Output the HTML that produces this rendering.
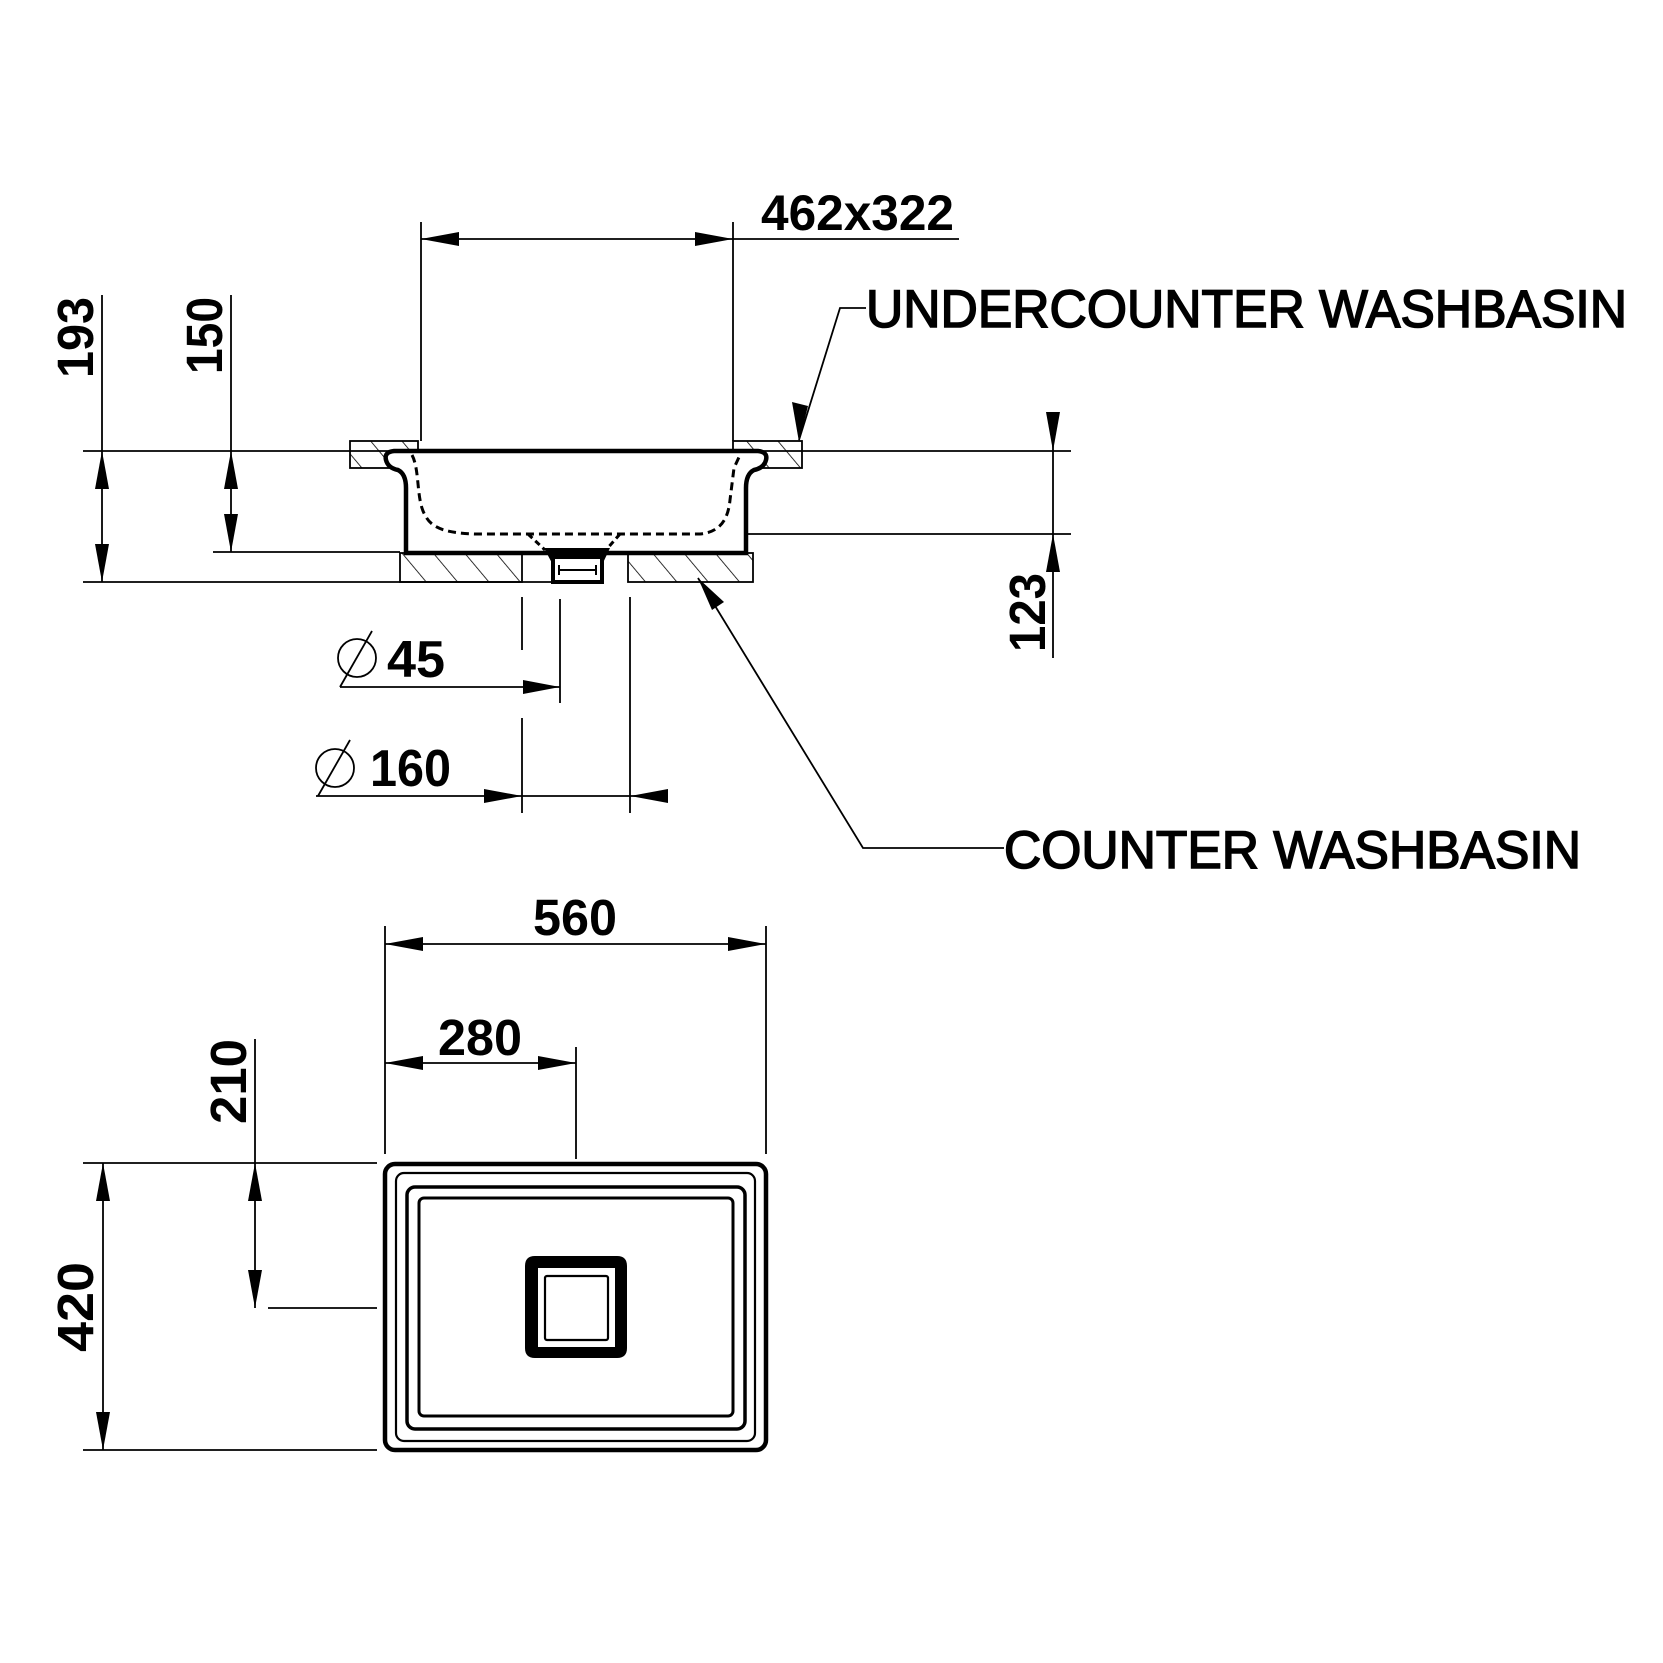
<!DOCTYPE html>
<html><head><meta charset="utf-8"><style>html,body{margin:0;padding:0;background:#fff}svg{display:block}</style></head>
<body>
<svg width="1663" height="1663" viewBox="0 0 1663 1663" xmlns="http://www.w3.org/2000/svg">
<defs>
<pattern id="h" patternUnits="userSpaceOnUse" width="24" height="40" patternTransform="rotate(-40)">
<line x1="0" y1="0" x2="0" y2="40" stroke="#000" stroke-width="1.6"/>
</pattern>
</defs>
<rect width="1663" height="1663" fill="#fff"/>
<g stroke="#000" stroke-width="1.8" fill="none">
<line x1="83" y1="451" x2="1071" y2="451"/>
<line x1="213" y1="552" x2="400" y2="552"/>
<line x1="83" y1="582" x2="553" y2="582"/>
<line x1="746" y1="534" x2="1071" y2="534"/>
<line x1="102" y1="295" x2="102" y2="582"/>
<line x1="231" y1="295" x2="231" y2="552"/>
<line x1="421" y1="222" x2="421" y2="441"/>
<line x1="733" y1="222" x2="733" y2="441"/>
<line x1="421" y1="239" x2="959" y2="239"/>
<line x1="1053" y1="412" x2="1053" y2="658"/>
<line x1="522" y1="597" x2="522" y2="650"/>
<line x1="522" y1="718" x2="522" y2="813"/>
<line x1="560" y1="599" x2="560" y2="703"/>
<line x1="630" y1="597" x2="630" y2="813"/>
<line x1="340" y1="687" x2="560" y2="687"/>
<line x1="316" y1="796" x2="668" y2="796"/>
<circle cx="357" cy="658" r="19"/>
<line x1="340" y1="687" x2="372" y2="631"/>
<circle cx="335" cy="768" r="19"/>
<line x1="318" y1="796" x2="350" y2="740"/>
<polyline points="866,308 840,308 799,440"/>
<polyline points="698,578 863,848 1004,848"/>
<line x1="385" y1="926" x2="385" y2="1154"/>
<line x1="766" y1="926" x2="766" y2="1154"/>
<line x1="576" y1="1047" x2="576" y2="1159"/>
<line x1="385" y1="944" x2="766" y2="944"/>
<line x1="385" y1="1063" x2="576" y2="1063"/>
<line x1="83" y1="1163" x2="377" y2="1163"/>
<line x1="83" y1="1450" x2="377" y2="1450"/>
<line x1="268" y1="1308" x2="377" y2="1308"/>
<line x1="103" y1="1163" x2="103" y2="1450"/>
<line x1="255" y1="1039" x2="255" y2="1308"/>
</g>
<g fill="#000">
<polygon points="102,451 95,489 109,489"/>
<polygon points="102,582 95,544 109,544"/>
<polygon points="231,451 224,489 238,489"/>
<polygon points="231,552 224,514 238,514"/>
<polygon points="421,239 459,232 459,246"/>
<polygon points="733,239 695,232 695,246"/>
<polygon points="1053,451 1046,412 1060,412"/>
<polygon points="1053,534 1046,572 1060,572"/>
<polygon points="560,687 523,680 523,694"/>
<polygon points="522,796 484,789 484,803"/>
<polygon points="630,796 668,789 668,803"/>
<polygon points="799,442 792,402 808,406"/>
<polygon points="698,578 712,610 724,602"/>
<polygon points="385,944 423,937 423,951"/>
<polygon points="766,944 728,937 728,951"/>
<polygon points="385,1063 423,1056 423,1070"/>
<polygon points="576,1063 538,1056 538,1070"/>
<polygon points="103,1163 96,1201 110,1201"/>
<polygon points="103,1450 96,1412 110,1412"/>
<polygon points="255,1163 248,1201 262,1201"/>
<polygon points="255,1308 248,1270 262,1270"/>
</g>
<g stroke="#000" stroke-width="1.8">
<rect x="350" y="441" width="68" height="27" fill="url(#h)"/>
<rect x="733" y="441" width="69" height="27" fill="url(#h)"/>
<rect x="400" y="553" width="122" height="29" fill="url(#h)"/>
<rect x="628" y="553" width="125" height="29" fill="url(#h)"/>
</g>
<path d="M394 451 Q384 452 386 460 Q388 468 398 470 Q406 474 406 488 L406 553 L746 553 L746 488 Q746 474 754 470 Q764 468 766 460 Q768 452 758 451 Z" fill="#fff" stroke="#000" stroke-width="4.5"/>
<path d="M412 455 C420 470 416 500 425 515 C432 530 450 533 475 534 L700 534 C720 532 728 520 730 500 L734 468 L740 455" fill="none" stroke="#000" stroke-width="3" stroke-dasharray="8,5"/>
<path d="M528 534 L545 550 M620 534 L606 550" fill="none" stroke="#000" stroke-width="3" stroke-dasharray="6,4"/>
<polygon points="544,548 610,548 602,565 553,565" fill="#000"/>
<rect x="553" y="557" width="49" height="25" fill="#fff" stroke="#000" stroke-width="4"/>
<path d="M559 565 V575 M596 565 V575 M559 570 H596" stroke="#000" stroke-width="2" fill="none"/>
<g fill="none" stroke="#000">
<rect x="385" y="1164" width="381" height="286" rx="10" stroke-width="4.5"/>
<rect x="396" y="1173" width="359" height="268" rx="8" stroke-width="2.2"/>
<rect x="407" y="1187" width="338" height="242" rx="8" stroke-width="3.5"/>
<rect x="419" y="1198" width="314" height="218" rx="5" stroke-width="3"/>
<rect x="545" y="1276" width="63" height="64" rx="2" stroke-width="2.2"/>
</g>
<path fill="#000" fill-rule="evenodd" d="M535 1256 H617 Q627 1256 627 1266 V1348 Q627 1358 617 1358 H535 Q525 1358 525 1348 V1266 Q525 1256 535 1256 Z M538 1268 V1347 H615 V1268 Z"/>
<g font-family="Liberation Sans, sans-serif" fill="#000" font-weight="bold">
<text x="761" y="230" font-size="50" textLength="193" lengthAdjust="spacingAndGlyphs">462x322</text>
<text x="387" y="677" font-size="52" textLength="58" lengthAdjust="spacingAndGlyphs">45</text>
<text x="370" y="786" font-size="52" textLength="81" lengthAdjust="spacingAndGlyphs">160</text>
<text x="533" y="935" font-size="51" textLength="84" lengthAdjust="spacingAndGlyphs">560</text>
<text x="438" y="1055" font-size="51" textLength="84" lengthAdjust="spacingAndGlyphs">280</text>
<text transform="translate(93,378) rotate(-90)" font-size="51" textLength="81" lengthAdjust="spacingAndGlyphs">193</text>
<text transform="translate(222,374) rotate(-90)" font-size="51" textLength="77" lengthAdjust="spacingAndGlyphs">150</text>
<text transform="translate(1045,652) rotate(-90)" font-size="51" textLength="79" lengthAdjust="spacingAndGlyphs">123</text>
<text transform="translate(246,1124) rotate(-90)" font-size="51" textLength="85" lengthAdjust="spacingAndGlyphs">210</text>
<text transform="translate(93,1352) rotate(-90)" font-size="51" textLength="90" lengthAdjust="spacingAndGlyphs">420</text>
<text x="866" y="327" font-size="53" font-weight="normal" stroke="#000" stroke-width="1.6" textLength="761" lengthAdjust="spacingAndGlyphs">UNDERCOUNTER WASHBASIN</text>
<text x="1004" y="868" font-size="53" font-weight="normal" stroke="#000" stroke-width="1.6" textLength="577" lengthAdjust="spacingAndGlyphs">COUNTER WASHBASIN</text>
</g>
</svg>
</body></html>
